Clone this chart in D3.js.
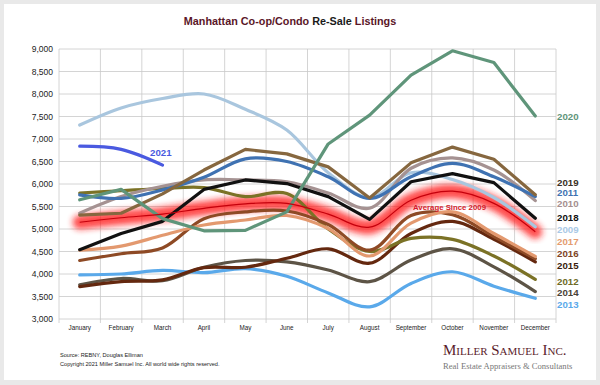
<!DOCTYPE html>
<html>
<head>
<meta charset="utf-8">
<script src="https://cdn.jsdelivr.net/npm/d3@7"></script>
<style>
  body { margin: 0; background: #e9e9e9; }
  svg { display: block; font-family: "Liberation Sans", Arial, sans-serif; }
</style>
</head>
<body>
<div id="chart"></div>
<script>
// months and y ticks
var months = ["January", "February", "March", "April", "May", "June", "July", "August", "September", "October", "November", "December"];
var yTicks = [3000, 3500, 4000, 4500, 5000, 5500, 6000, 6500, 7000, 7500, 8000, 8500, 9000];

// listings per year
var y2009 = [7310, 7690, 7900, 8000, 7660, 7200, 6250, 5700, 6250, 6100, 5700, 5050];
var y2010 = [5350, 5720, 5950, 6090, 6090, 6050, 5800, 5460, 6350, 6580, 6310, 5630];
var y2011 = [5760, 5680, 5870, 6150, 6560, 6500, 6160, 5680, 6160, 6460, 6160, 5720];
var y2012 = [5800, 5850, 5900, 5920, 5720, 5790, 5000, 4500, 4790, 4770, 4400, 3880];
var y2013 = [3980, 4000, 4080, 4030, 4120, 3950, 3580, 3270, 3790, 4050, 3730, 3460];
var y2014 = [3760, 3900, 3850, 4150, 4300, 4270, 4090, 3830, 4310, 4560, 4160, 3610];
var y2015 = [3720, 3830, 3870, 4140, 4150, 4350, 4560, 4240, 4900, 5170, 4770, 4270];
var y2016 = [4300, 4450, 4580, 5230, 5380, 5400, 5100, 4530, 5300, 5320, 4830, 4340];
var y2017 = [4530, 4620, 4860, 5090, 5200, 5300, 5010, 4400, 5130, 5380, 4900, 4390];
var y2018 = [4540, 4900, 5170, 5880, 6090, 6010, 5720, 5215, 6050, 6230, 6030, 5240];
var y2019 = [5310, 5350, 5780, 6310, 6770, 6670, 6380, 5690, 6470, 6820, 6550, 5760];
var y2020 = [5650, 5880, 5230, 4960, 4970, 5380, 6890, 7530, 8420, 8960, 8700, 7510];
var y2021 = [6840, 6770, 6420];
var average = [5150, 5250, 5330, 5460, 5560, 5570, 5330, 5040, 5640, 5840, 5570, 4940];

// right hand labels, in the order they are stacked
var labelYears = ["2019", "2011", "2010", "2018", "2009", "2017", "2016", "2015", "2012", "2014", "2013"];

var W = 600, H = 385;
var margin = {top: 49, right: 44, bottom: 66, left: 59};

var svg = d3.select("#chart").append("svg")
    .attr("width", W)
    .attr("height", H);

// white card
svg.append("rect")
    .attr("x", 4).attr("y", 4)
    .attr("width", W - 8).attr("height", 376)
    .attr("fill", "#fff");

var x = d3.scaleBand()
    .domain(months)
    .range([margin.left, W - margin.right]);

var y = d3.scaleLinear()
    .domain([3000, 9000])
    .range([H - margin.bottom, margin.top]);

// grid
var grid = svg.append("g");
grid.selectAll(".h")
    .data(yTicks)
    .enter().append("line")
    .attr("x1", margin.left).attr("x2", W - margin.right)
    .attr("y1", d => y(d)).attr("y2", d => y(d))
    .attr("stroke", "#c9c9c9").attr("stroke-width", 0.8);

var edges = months.map(m => x(m)).concat([W - margin.right]);
grid.selectAll(".v")
    .data(edges)
    .enter().append("line")
    .attr("x1", d => d).attr("x2", d => d)
    .attr("y1", margin.top).attr("y2", y(3000) + 4)
    .attr("stroke", "#c9c9c9").attr("stroke-width", 0.8);

// y axis labels
svg.append("g")
    .attr("transform", `translate(${margin.left},0)`)
    .call(d3.axisLeft(y).tickValues(yTicks).tickFormat(d3.format(",")).tickSize(0).tickPadding(6))
    .call(g => g.select(".domain").remove())
    .call(g => g.selectAll("text").attr("font-size", "8.5px").attr("fill", "#222").attr("font-family", "Liberation Sans, Arial"));

// x axis labels
svg.append("g")
    .attr("transform", `translate(0,${y(3000)})`)
    .call(d3.axisBottom(x).tickSize(0).tickPadding(7))
    .call(g => g.select(".domain").remove())
    .call(g => g.selectAll("text").attr("font-size", "6.3px").attr("fill", "#222").attr("font-family", "Liberation Sans, Arial"));

// line generators
var smooth = d3.line()
    .x((d, i) => x(months[i]) + x.bandwidth() / 2)
    .y(d => y(d))
    .curve(d3.curveCatmullRom.alpha(0.5));

var straight = d3.line()
    .x((d, i) => x(months[i]) + x.bandwidth() / 2)
    .y(d => y(d));

// glow for the average line
var defs = svg.append("defs");
defs.append("filter")
    .attr("id", "glow")
    .attr("x", "-10%").attr("y", "-30%").attr("width", "120%").attr("height", "160%")
    .append("feGaussianBlur")
    .attr("stdDeviation", 3.4);

svg.append("path")
    .datum(average)
    .attr("d", smooth)
    .attr("fill", "none")
    .attr("stroke", "#ff1a1a")
    .attr("stroke-width", 14)
    .attr("stroke-linecap", "round")
    .attr("opacity", 0.8)
    .attr("filter", "url(#glow)");

// series, drawn back to front
var series = [
    {data: y2013, color: "#5aa9ea", curve: smooth},
    {data: y2014, color: "#5d5446", curve: smooth},
    {data: y2015, color: "#64280f", curve: smooth},
    {data: y2012, color: "#7b7226", curve: smooth},
    {data: y2016, color: "#8e4a25", curve: smooth},
    {data: y2017, color: "#e3996f", curve: smooth},
    {data: y2009, color: "#a9c6de", curve: smooth},
    {data: y2010, color: "#a59292", curve: smooth},
    {data: y2011, color: "#3f72b2", curve: smooth},
    {data: y2019, color: "#86673f", curve: straight},
    {data: y2018, color: "#111111", curve: straight},
    {data: y2020, color: "#5f957a", curve: straight},
    {data: y2021, color: "#4a5ae0", curve: smooth}
];

svg.selectAll(".series")
    .data(series)
    .enter().append("path")
    .attr("d", d => d.curve(d.data))
    .attr("fill", "none")
    .attr("stroke", d => d.color)
    .attr("stroke-width", 3.2)
    .attr("stroke-linejoin", "round")
    .attr("stroke-linecap", "round");

// average centre line
svg.append("path")
    .datum(average)
    .attr("d", smooth)
    .attr("fill", "none")
    .attr("stroke", "#c4000c")
    .attr("stroke-width", 1.2);

svg.append("text")
    .attr("x", 413).attr("y", 209.5)
    .attr("font-size", "7.8px").attr("font-weight", "bold")
    .attr("fill", "#d7192a")
    .text("Average  Since 2009");

// series labels
var labelColors = {
    "2019": "#3a3026", "2011": "#3f72b2", "2010": "#a58e8e", "2018": "#111",
    "2009": "#a9c9e6", "2017": "#e49b6e", "2016": "#7e4326", "2015": "#3a1c0c",
    "2012": "#6e6a26", "2014": "#4a4238", "2013": "#5aa9ea"
};
var labelY = [182.7, 192.7, 203.3, 217, 229, 241.3, 253.7, 265.3, 281, 292.3, 304];

svg.selectAll(".lab")
    .data(labelYears)
    .enter().append("text")
    .attr("x", 557)
    .attr("y", (d, i) => labelY[i] + 3.5)
    .attr("font-size", "9.7px").attr("font-weight", "bold")
    .attr("fill", d => labelColors[d])
    .text(d => d);

svg.append("text")
    .attr("x", 557).attr("y", 119.5)
    .attr("font-size", "9.7px").attr("font-weight", "bold")
    .attr("fill", "#5f957a")
    .text("2020");

svg.append("text")
    .attr("x", 150).attr("y", 155.5)
    .attr("font-size", "9.7px").attr("font-weight", "bold")
    .attr("fill", "#4a5ae0")
    .text("2021");

// title
var title = svg.append("text")
    .attr("x", 290).attr("y", 25)
    .attr("text-anchor", "middle")
    .attr("font-size", "10.8px").attr("font-weight", "bold")
    .attr("fill", "#5a1628");
title.append("tspan").text("Manhattan Co-op/Condo ");
title.append("tspan").attr("fill", "#1a1a1a").text("Re-Sale");
title.append("tspan").text(" Listings");

// footer
svg.append("text")
    .attr("x", 60).attr("y", 357)
    .attr("font-size", "5.6px").attr("fill", "#222")
    .text("Source: REBNY, Douglas Elliman");
svg.append("text")
    .attr("x", 60).attr("y", 366)
    .attr("font-size", "5.6px").attr("fill", "#222")
    .text("Copyright 2021 Miller Samuel Inc.  All world wide rights reserved.");

svg.append("text")
    .attr("x", 443).attr("y", 355)
    .attr("font-family", "Liberation Serif, DejaVu Serif, serif")
    .attr("font-size", "15px")
    .attr("font-variant", "small-caps")
    .attr("fill", "#5a1c2c")
    .text("Miller Samuel Inc.");
svg.append("text")
    .attr("x", 443).attr("y", 369)
    .attr("font-family", "Liberation Serif, DejaVu Serif, serif")
    .attr("font-size", "8.6px")
    .attr("fill", "#777")
    .text("Real Estate Appraisers & Consultants");
</script>
</body>
</html>
